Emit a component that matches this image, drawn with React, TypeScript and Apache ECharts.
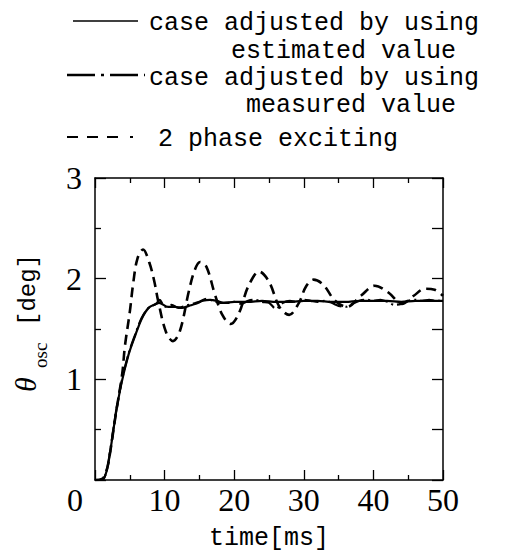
import React, { useEffect, useRef } from "react";
import * as echarts from "echarts";

// ---- data (time [ms], theta_osc [deg]) ----
const estimatedValue: [number, number][] = [
  [0, 0], [1, 0], [1.5, 0.05], [2, 0.2], [3, 0.66], [3.8, 0.96], [4.8, 1.24], [5.75, 1.43],
  [6.7, 1.6], [7.7, 1.71], [8.8, 1.75], [9.2, 1.76], [10.5, 1.72], [11.5, 1.72],
  [12.5, 1.71], [13.5, 1.73], [14.5, 1.75], [15.5, 1.78], [16.5, 1.79], [17.5, 1.78],
  [18.5, 1.76], [20, 1.77], [22, 1.77], [24, 1.78], [26, 1.77], [28, 1.77], [30, 1.78],
  [32, 1.78], [34, 1.77], [36, 1.77], [38, 1.78], [40, 1.78], [42, 1.78], [44, 1.77],
  [46, 1.78], [48, 1.78], [50, 1.78],
];
const measuredValue: [number, number][] = [
  [0, 0], [1, 0], [1.5, 0.05], [2, 0.21], [3, 0.67], [3.8, 0.97], [4.8, 1.25], [5.75, 1.44],
  [6.7, 1.61], [7.7, 1.71], [8.8, 1.75], [9.3, 1.79], [10, 1.72], [11, 1.74], [12, 1.71],
  [13, 1.73], [14, 1.75], [15, 1.77], [16, 1.8], [17, 1.78], [18, 1.76], [19, 1.76],
  [20, 1.77], [21, 1.75], [22, 1.78], [23, 1.79], [24, 1.77], [25, 1.76], [26, 1.7],
  [27, 1.76], [28, 1.78], [29, 1.77], [30, 1.79], [31, 1.78], [32, 1.77], [33, 1.78],
  [34, 1.76], [35, 1.73], [36, 1.72], [37, 1.75], [38, 1.78], [39, 1.79], [40, 1.78],
  [41, 1.79], [42, 1.77], [43, 1.74], [44, 1.75], [45, 1.78], [46, 1.79], [47, 1.78],
  [48, 1.79], [49, 1.78], [50, 1.78],
];
const twoPhaseExciting: [number, number][] = [
  [0, 0], [1, 0.01], [1.5, 0.06], [2, 0.2], [3, 0.66], [3.9, 1.05], [4.3, 1.33], [5, 1.67],
  [5.5, 1.96], [6.1, 2.2], [6.9, 2.29], [7.8, 2.16], [8.5, 1.98], [9.1, 1.77], [10.2, 1.47],
  [11.2, 1.38], [12.2, 1.48], [13.5, 1.88], [14.3, 2.08], [15.1, 2.165], [16, 2.12],
  [17.2, 1.85], [18.3, 1.64], [19.5, 1.55], [20.7, 1.66], [22, 1.92], [23.6, 2.07],
  [25, 1.97], [26.5, 1.72], [27.9, 1.64], [29.3, 1.76], [30.3, 1.92], [31.4, 1.99],
  [32.8, 1.94], [34.5, 1.78], [36.2, 1.72], [38.2, 1.83], [40.2, 1.93], [42.2, 1.86],
  [44.1, 1.75], [45.8, 1.83], [47.4, 1.9], [48.8, 1.89], [50, 1.83],
];

const seriesNames = [
  "case adjusted by using estimated value",
  "case adjusted by using measured value",
  "2 phase exciting",
];
const legendTexts = [
  ["case adjusted by using", "estimated value"],
  ["case adjusted by using", "measured value"],
  ["2 phase exciting"],
];
const xAxisTitle = "time[ms]";
const yAxisSymbol = "θ";
const yAxisSub = "osc";
const yAxisUnit = "[deg]";
const xRange = [0, 50];
const yRange = [0, 3];

const BLACK = "#000";
const SERIF = "'Liberation Serif', 'DejaVu Serif', serif";
const MONO = "'Liberation Mono', 'DejaVu Sans Mono', monospace";

export default function App() {
  const ref = useRef<HTMLDivElement>(null);
  useEffect(() => {
    if (!ref.current) return;
    const chart = echarts.init(ref.current, undefined, { renderer: "svg" });
    const axisLine = { show: true, onZero: false, lineStyle: { color: BLACK, width: 1.5 } };
    const tickStyle = { color: BLACK, width: 1.3 };
    const legendFont = { fontFamily: MONO, fontSize: 25, lineHeight: 25, fill: BLACK };
    chart.setOption({
      animation: false,
      backgroundColor: "#fff",
      grid: { left: 95, right: 67, top: 178, bottom: 74 },
      xAxis: [
        {
          type: "value", min: xRange[0], max: xRange[1], interval: 10, position: "bottom",
          axisLine, splitLine: { show: false },
          axisTick: { show: true, inside: true, length: 10, lineStyle: tickStyle },
          minorTick: { show: true, splitNumber: 2, length: 5, lineStyle: tickStyle },
          axisLabel: {
            formatter: (v: number) => (v === 0 ? "" : String(v)),
            fontFamily: SERIF, fontSize: 32, color: BLACK, margin: 4,
          },
          name: xAxisTitle, nameLocation: "middle", nameGap: 46,
          nameTextStyle: { fontFamily: MONO, fontSize: 25, color: BLACK },
        },
        {
          type: "value", min: xRange[0], max: xRange[1], interval: 10, position: "top",
          axisLine, splitLine: { show: false },
          axisTick: { show: true, inside: true, length: 10, lineStyle: tickStyle },
          minorTick: { show: true, splitNumber: 2, length: 5, lineStyle: tickStyle },
          axisLabel: { show: false },
        },
      ],
      yAxis: [
        {
          type: "value", min: yRange[0], max: yRange[1], interval: 1, position: "left",
          axisLine, splitLine: { show: false },
          axisTick: { show: true, inside: true, length: 11, lineStyle: tickStyle },
          minorTick: { show: true, splitNumber: 2, length: 6, lineStyle: tickStyle },
          axisLabel: {
            formatter: (v: number) => (v === 0 ? "" : String(v)),
            fontFamily: SERIF, fontSize: 32, color: BLACK, margin: 13,
          },
        },
        {
          type: "value", min: yRange[0], max: yRange[1], interval: 0.5, position: "right",
          axisLine, splitLine: { show: false },
          axisTick: { show: true, inside: true, length: 11, lineStyle: tickStyle },
          axisLabel: { show: false },
        },
      ],
      series: [
        {
          name: seriesNames[2], type: "line", data: twoPhaseExciting, smooth: 0.35,
          showSymbol: false, symbol: "none", xAxisIndex: 0, yAxisIndex: 0,
          lineStyle: { color: BLACK, width: 2.6, type: [10, 6] },
        },
        {
          name: seriesNames[1], type: "line", data: measuredValue, smooth: 0.3,
          showSymbol: false, symbol: "none", xAxisIndex: 0, yAxisIndex: 0,
          lineStyle: { color: BLACK, width: 2.2, type: [14, 4, 2, 4] },
        },
        {
          name: seriesNames[0], type: "line", data: estimatedValue, smooth: 0.3,
          showSymbol: false, symbol: "none", xAxisIndex: 0, yAxisIndex: 0,
          lineStyle: { color: BLACK, width: 2.2, type: "solid" },
        },
      ],
      graphic: [
        // legend samples
        { type: "line", shape: { x1: 73, y1: 21, x2: 138, y2: 21 }, style: { stroke: BLACK, lineWidth: 1.6 } },
        { type: "line", shape: { x1: 67, y1: 75, x2: 145, y2: 75 }, style: { stroke: BLACK, lineWidth: 2.4, lineDash: [28, 6, 3, 6] } },
        { type: "line", shape: { x1: 67, y1: 137, x2: 135, y2: 137 }, style: { stroke: BLACK, lineWidth: 2.2, lineDash: [11, 9, 11, 9, 11, 12, 3, 100] } },
        // legend texts
        { type: "text", x: 149, y: 23, style: { ...legendFont, text: legendTexts[0][0], align: "left", verticalAlign: "middle" } },
        { type: "text", x: 231, y: 51, style: { ...legendFont, text: legendTexts[0][1], align: "left", verticalAlign: "middle" } },
        { type: "text", x: 149, y: 78, style: { ...legendFont, text: legendTexts[1][0], align: "left", verticalAlign: "middle" } },
        { type: "text", x: 246, y: 105, style: { ...legendFont, text: legendTexts[1][1], align: "left", verticalAlign: "middle" } },
        { type: "text", x: 158, y: 139, style: { ...legendFont, text: legendTexts[2][0], align: "left", verticalAlign: "middle" } },
        // origin label
        { type: "text", x: 75, y: 500, style: { text: "0", fontFamily: SERIF, fontSize: 32, fill: BLACK, align: "center", verticalAlign: "middle" } },
        // y axis title
        { type: "text", x: 25, y: 392, rotation: Math.PI / 2, style: { text: yAxisSymbol, fontFamily: SERIF, fontStyle: "italic", fontSize: 30, fill: BLACK, align: "left", verticalAlign: "middle" } },
        { type: "text", x: 40, y: 368, rotation: Math.PI / 2, style: { text: yAxisSub, fontFamily: SERIF, fontSize: 19, fill: BLACK, align: "left", verticalAlign: "middle" } },
        { type: "text", x: 28, y: 326, rotation: Math.PI / 2, style: { text: yAxisUnit, fontFamily: MONO, fontSize: 24, fill: BLACK, align: "left", verticalAlign: "middle" } },
      ],
    });
    return () => chart.dispose();
  }, []);
  return <div ref={ref} style={{ width: 510, height: 556, position: "absolute", left: 0, top: 0 }} />;
}
